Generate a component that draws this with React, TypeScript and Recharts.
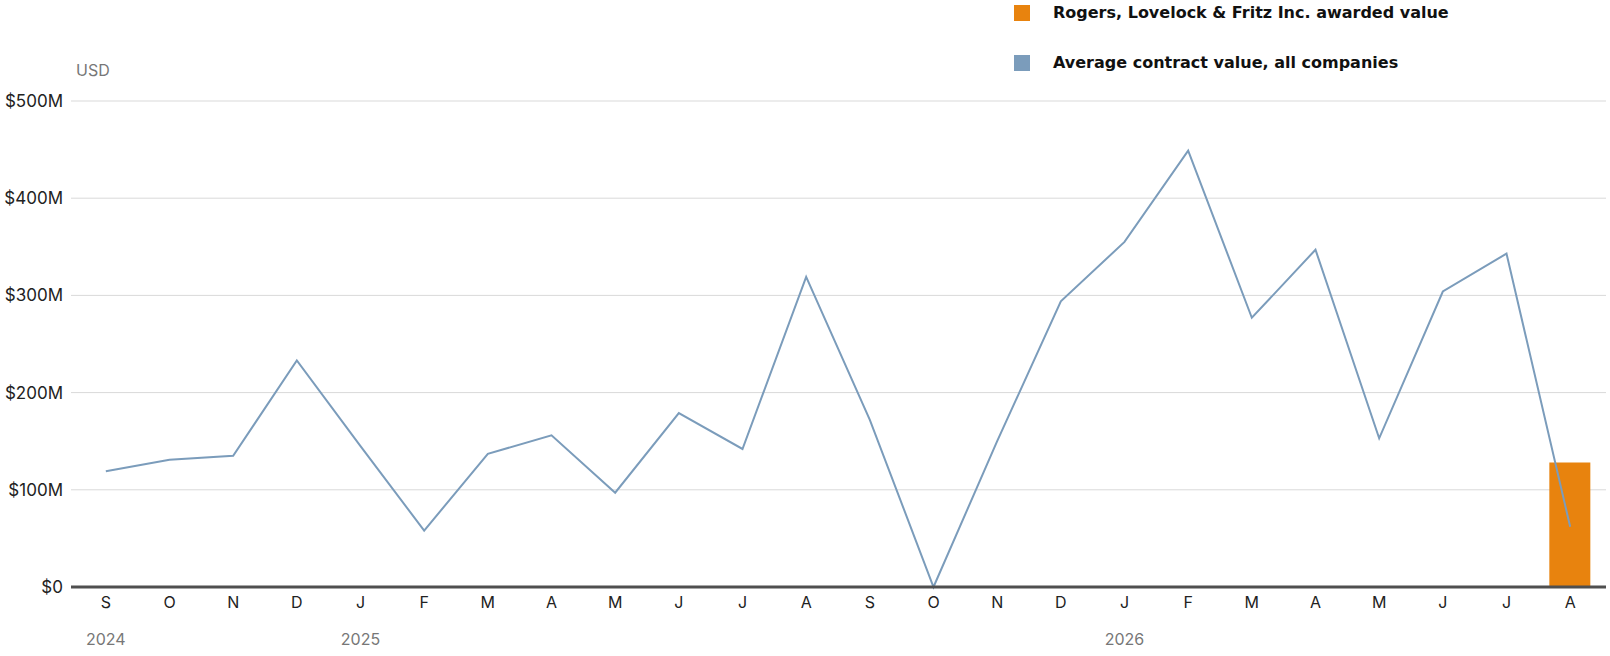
import React from 'react';
import {
  ComposedChart,
  Bar,
  Line,
  XAxis,
  YAxis,
  CartesianGrid,
} from 'recharts';

// months Sep 2024 .. Aug 2026
const MONTHS = ['S', 'O', 'N', 'D', 'J', 'F', 'M', 'A', 'M', 'J', 'J', 'A', 'S', 'O', 'N', 'D', 'J', 'F', 'M', 'A', 'M', 'J', 'J', 'A'];
const YEAR_LABELS = ['2024', '', '', '', '2025', '', '', '', '', '', '', '', '', '', '', '', '2026', '', '', '', '', '', '', ''];

// USD millions
const AVERAGE_VALUES = [119, 131, 135, 233, 145, 58, 137, 156, 97, 179, 142, 319, 172, 0, 150, 294, 355, 449, 277, 347, 153, 304, 343, 62];
const AWARDED_VALUES = [null, null, null, null, null, null, null, null, null, null, null, null, null, null, null, null, null, null, null, null, null, null, null, 128];

const Y_TICKS = [0, 100, 200, 300, 400, 500];

const ORANGE = '#e8830e';
const BLUE = '#7b9cbb';
const FONT = 'Inter, "Liberation Sans", sans-serif';

const data = MONTHS.map((m, i) => ({
  key: `${m}-${i}`,
  average: AVERAGE_VALUES[i],
  awarded: AWARDED_VALUES[i],
}));

const legendItems = [
  { label: 'Rogers, Lovelock & Fritz Inc. awarded value', color: ORANGE },
  { label: 'Average contract value, all companies', color: BLUE },
];

const MonthTick = ({ x, y, payload }: any) => {
  const i = payload.index;
  return (
    <g>
      <text x={x} y={y + 21} textAnchor="middle" fontSize={16} fill="#222" fontFamily={FONT}>
        {MONTHS[i]}
      </text>
      {YEAR_LABELS[i] && (
        <text x={x} y={y + 58} textAnchor="middle" fontSize={16} fill="#777" fontFamily={FONT}>
          {YEAR_LABELS[i]}
        </text>
      )}
    </g>
  );
};

export default function App() {
  return (
    <div style={{ position: 'absolute', left: 0, top: 0, width: 1610, height: 656, background: '#fff' }}>
      <ComposedChart
        width={1610}
        height={656}
        data={data}
        margin={{ top: 101, right: 4, left: 0, bottom: 9 }}
      >
        <CartesianGrid vertical={false} stroke="#d9d9d9" />
        <XAxis
          dataKey="key"
          interval={0}
          height={60}
          tickSize={0}
          tickMargin={0}
          padding={{ left: 3, right: 4 }}
          axisLine={{ stroke: '#4f4f4f', strokeWidth: 3 }}
          tickLine={false}
          tick={<MonthTick />}
        />
        <YAxis
          width={71}
          domain={[0, 500]}
          ticks={Y_TICKS}
          tickSize={0}
          tickMargin={8}
          axisLine={false}
          tickLine={false}
          tick={{ fontSize: 17, fill: '#222', fontFamily: FONT }}
          tickFormatter={(v: number) => (v === 0 ? '$0' : `$${v}M`)}
        />
        <Bar dataKey="awarded" fill={ORANGE} barSize={41} isAnimationActive={false} />
        <Line
          type="linear"
          dataKey="average"
          stroke={BLUE}
          strokeWidth={2}
          dot={false}
          activeDot={false}
          isAnimationActive={false}
        />
      </ComposedChart>

      <div style={{ position: 'absolute', left: 76, top: 60, fontSize: 16, color: '#777', fontFamily: FONT }}>
        USD
      </div>

      <div style={{ position: 'absolute', left: 1014, top: 0 }}>
        {legendItems.map((item, i) => (
          <div
            key={item.label}
            style={{ position: 'absolute', top: 5 + i * 50, left: 0, display: 'flex', alignItems: 'center', whiteSpace: 'nowrap' }}
          >
            <span style={{ width: 16, height: 16, background: item.color, display: 'inline-block' }} />
            <span
              style={{
                marginLeft: 23,
                fontFamily: '"DejaVu Sans", sans-serif',
                fontWeight: 700,
                fontSize: 16,
                color: '#111',
                lineHeight: '16px',
              }}
            >
              {item.label}
            </span>
          </div>
        ))}
      </div>
    </div>
  );
}
